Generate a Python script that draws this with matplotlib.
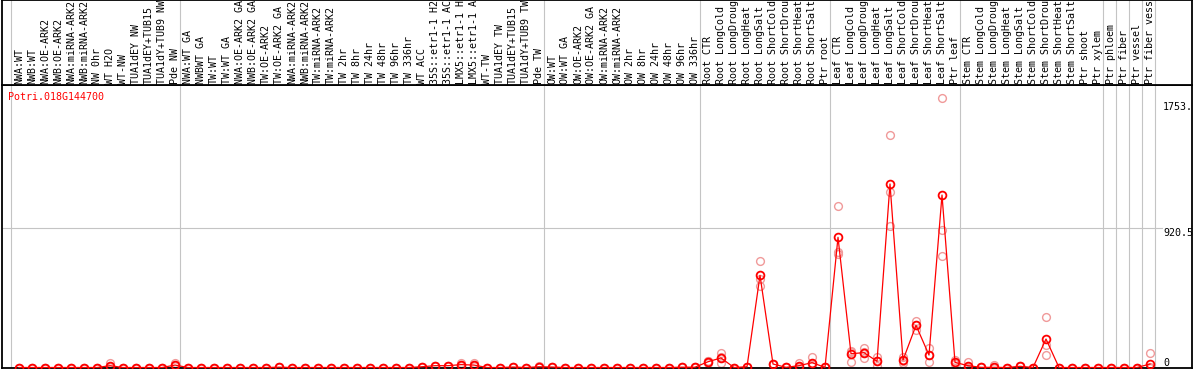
import numpy as np
import matplotlib
matplotlib.use("Agg")
import matplotlib.pyplot as plt

# nombres de las muestras (texto visible en la cabecera)
samples = ["NWA:WT", "NWB:WT", "NWA:OE-ARK2", "NWB:OE-ARK2", "NWA:miRNA-ARK2", "NWB:miRNA-ARK2",
           "NW 0hr", "WT H2O", "WT-NW", "TUA1dEY NW", "TUA1dEY+TUB15", "TUA1dY+TUB9 NW", "Pde NW",
           "NWA:WT GA", "NWBWT GA", "TW:WT", "TW:WT GA", "NWA:OE-ARK2 GA", "NWB:OE-ARK2 GA",
           "TW:OE-ARK2", "TW:OE-ARK2 GA", "NWA:miRNA-ARK2", "NWB:miRNA-ARK2", "TW:miRNA-ARK2",
           "TW:miRNA-ARK2", "TW 2hr", "TW 8hr", "TW 24hr", "TW 48hr", "TW 96hr", "TW 336hr",
           "WT ACC", "35S::etr1-1 H2", "35S::etr1-1 AC", "LMX5::etr1-1 H", "LMX5::etr1-1 A",
           "WT-TW", "TUA1dEY TW", "TUA1dEY+TUB15", "TUA1dY+TUB9 TW", "Pde TW",
           "OW:WT", "OW:WT GA", "OW:OE-ARK2", "OW:OE-ARK2 GA", "OW:miRNA-ARK2", "OW:miRNA-ARK2",
           "OW 2hr", "OW 8hr", "OW 24hr", "OW 48hr", "OW 96hr", "OW 336hr",
           "Root CTR", "Root LongCold", "Root LongDroug", "Root LongHeat", "Root LongSalt",
           "Root ShortCold", "Root ShortDrou", "Root ShortHeat", "Root ShortSalt", "Ptr root",
           "Leaf CTR", "Leaf LongCold", "Leaf LongDroug", "Leaf LongHeat", "Leaf LongSalt",
           "Leaf ShortCold", "Leaf ShortDrou", "Leaf ShortHeat", "Leaf ShortSalt", "Ptr leaf",
           "Stem CTR", "Stem LongCold", "Stem LongDroug", "Stem LongHeat", "Stem LongSalt",
           "Stem ShortCold", "Stem ShortDrou", "Stem ShortHeat", "Stem ShortSalt", "Ptr shoot",
           "Ptr xylem", "Ptr phloem", "Ptr fiber", "Ptr vessel", "Ptr fiber vess"]

# media de expresion
means = [0, 0, 0, 0, 0, 0, 0, 12, 0, 0, 0, 0, 16,
         0, 0, 0, 0, 0, 0, 0, 2, 0, 0, 0, 0, 0, 0, 0, 0, 0, 0,
         5, 12, 12, 19, 16, 0, 0, 3, 0, 5,
         3, 0, 0, 0, 0, 0, 0, 0, 0, 0, 2, 2,
         38, 63, 0, 5, 608, 23, 1, 12, 32, 1,
         859, 91, 98, 41, 1211, 49, 278, 82, 1138, 34,
         12, 1, 1, 0, 8, 0, 188, 0, 0, 0, 0,
         0, 0, 0, 23]

# replicas
rep_a = [0, 0, 0, 0, 0, 0, 0, 28, 0, 0, 0, 0, 28,
         0, 0, 0, 0, 0, 0, 0, 2, 0, 0, 0, 0, 0, 0, 0, 0, 0, 0,
         5, 12, 12, 32, 28, 0, 0, 3, 0, 12,
         3, 0, 0, 0, 0, 0, 0, 0, 0, 0, 2, 2,
         30, 94, 0, 5, 703, 23, 1, 30, 67, 1,
         1066, 109, 129, 12, 1534, 71, 307, 129, 1778, 49,
         34, 1, 14, 0, 8, 0, 333, 0, 0, 0, 0,
         0, 0, 0, 94]
rep_b = [0, 0, 0, 0, 0, 0, 0, 5, 0, 0, 0, 0, 10,
         0, 0, 0, 0, 0, 0, 0, 1, 0, 0, 0, 0, 0, 0, 0, 0, 0, 0,
         5, 12, 12, 14, 10, 0, 0, 3, 0, 2,
         3, 0, 0, 0, 0, 0, 0, 0, 0, 0, 2, 2,
         40, 28, 0, 5, 538, 23, 1, 5, 20, 1,
         764, 38, 63, 41, 1157, 45, 247, 38, 907, 30,
         5, 1, 0, 0, 8, 0, 82, 0, 0, 0, 0,
         0, 0, 0, 5]
rep_c = [0, 0, 0, 0, 0, 0, 0, 4, 0, 0, 0, 0, 10,
         0, 0, 0, 0, 0, 0, 0, 2, 0, 0, 0, 0, 0, 0, 0, 0, 0, 0,
         5, 12, 12, 12, 10, 0, 0, 3, 0, 2,
         3, 0, 0, 0, 0, 0, 0, 0, 0, 0, 2, 2,
         44, 67, 0, 5, 583, 23, 1, 2, 10, 1,
         747, 100, 100, 70, 934, 32, 280, 80, 736, 24,
         0, 1, 0, 0, 8, 0, 148, 0, 0, 0, 0,
         0, 0, 0, 0]

# ultima muestra de cada grupo (indice)
group_last = [-1, 12, 40, 52, 62, 72, 83, 84, 85, 86, 87]

gene = "Potri.018G144700"
y_marks = [1753, 920.5, 0]
y_texts = ["1753.", "920.5", "0"]

W, H = 1194, 370
fig = plt.figure(figsize=(W / 100, H / 100), dpi=100)
mono = "DejaVu Sans Mono"
grid_c = "#c4c4c4"

# zona del grafico
ax = fig.add_axes([2 / W, 2 / H, 1190 / W, 283 / H])
ax.set_xlim((2 - 19) / 13, (1192 - 19) / 13)
ax.set_ylim(-0.5 / 0.15155, 282.5 / 0.15155)
ax.set_xticks([])
ax.set_yticks([])
for s in ax.spines.values():
    s.set_color("black")
    s.set_linewidth(1.3)

# cabecera con los nombres
hx = fig.add_axes([2 / W, 285 / H, 1190 / W, 85 / H], sharex=ax)
hx.set_yticks([])
hx.tick_params(bottom=False, labelbottom=False)
for s in hx.spines.values():
    s.set_color("black")
    s.set_linewidth(1.3)

for g in group_last:
    ax.axvline(g + 0.42, color=grid_c, lw=0.8, zorder=0)
    hx.axvline(g + 0.42, color=grid_c, lw=0.8, zorder=0)

ax.axhline(920.5, xmin=0, xmax=(1162 - 2) / 1190, color=grid_c, lw=0.8, zorder=0)

x = np.arange(len(samples))
for i, name in enumerate(samples):
    hx.text(i, 0.01, name, rotation=90, ha="center", va="bottom",
            fontsize=7.2, family=mono, transform=hx.get_xaxis_transform())

# replicas y media
for rep in (rep_a, rep_b, rep_c):
    ax.plot(x, rep, "o", ms=5.6, mfc="none", mec="#f09a9a", mew=1.0, zorder=2)
ax.plot(x, means, "-", color="red", lw=0.9, zorder=3)
ax.plot(x, means, "o", ms=5.6, mfc="none", mec="red", mew=1.3, zorder=4)

for v, t in zip(y_marks, y_texts):
    ax.text((1163 - 19) / 13, v, t, ha="left", va="bottom" if v == 0 else "top",
            fontsize=7.2, family=mono)

ax.text(6 / 1190, 0.958, gene, color="red", fontsize=7.2, family=mono,
        ha="left", va="center", transform=ax.transAxes)

fig.savefig("out.png", dpi=100)
